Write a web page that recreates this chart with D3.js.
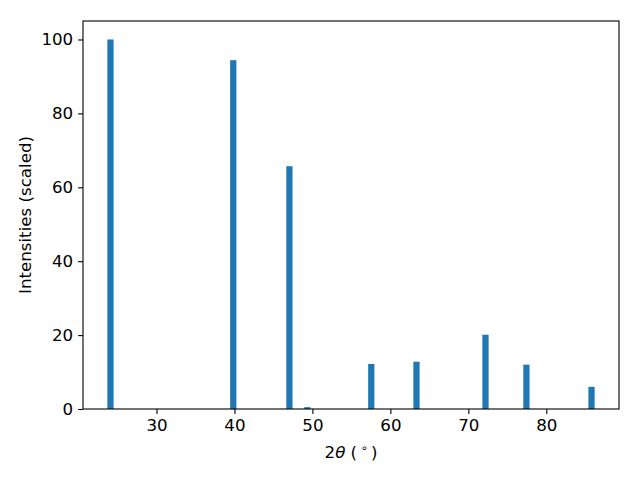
<!DOCTYPE html>
<html>
<head>
<meta charset="utf-8">
<script src="https://cdn.jsdelivr.net/npm/d3@7"></script>
<style>
  body { margin: 0; background: #fff; }
  svg { font-family: "DejaVu Sans", sans-serif; }
</style>
</head>
<body>
<div id="chart"></div>
<script>
const angles = [24.1, 39.85, 47.05, 49.35, 57.55, 63.35, 72.2, 77.45, 85.8];
const intensities = [100, 94.4, 65.7, 0.5, 12.2, 12.8, 20.1, 12.0, 6.0];
const xTicks = [30, 40, 50, 60, 70, 80];
const yTicks = [0, 20, 40, 60, 80, 100];
const barWidth = 0.8;

const width = 640, height = 480;
const margin = { left: 83, right: 21, top: 21, bottom: 71 };

const svg = d3.select("#chart")
  .append("svg")
  .attr("width", width)
  .attr("height", height);

// matplotlib-like 5% margins
const lo = d3.min(angles) - barWidth / 2;
const hi = d3.max(angles) + barWidth / 2;
const pad = (hi - lo) * 0.05;

const x = d3.scaleLinear()
  .domain([lo - pad, hi + pad])
  .range([margin.left, width - margin.right]);

const y = d3.scaleLinear()
  .domain([0, d3.max(intensities) * 1.05])
  .range([height - margin.bottom, margin.top]);

svg.append("g")
  .selectAll("rect")
  .data(angles)
  .enter()
  .append("rect")
  .attr("x", d => x(d - barWidth / 2))
  .attr("width", d => x(d + barWidth / 2) - x(d - barWidth / 2))
  .attr("y", (d, i) => y(intensities[i]))
  .attr("height", (d, i) => y(0) - y(intensities[i]))
  .style("fill", "#1f77b4");

const xAxis = svg.append("g")
  .attr("transform", `translate(0,${height - margin.bottom})`)
  .call(d3.axisBottom(x).tickValues(xTicks).tickSize(4.9).tickPadding(4.9));

const yAxis = svg.append("g")
  .attr("transform", `translate(${margin.left},0)`)
  .call(d3.axisLeft(y).tickValues(yTicks).tickSize(4.9).tickPadding(4.9));

[xAxis, yAxis].forEach(g => {
  g.select(".domain").remove();
  g.selectAll("text").style("font-size", "16.67px").style("fill", "#000")
    .style("font-family", "DejaVu Sans, sans-serif");
  g.selectAll("line").style("stroke", "#000").style("stroke-width", 1.1);
});

svg.append("rect")
  .attr("x", margin.left)
  .attr("y", margin.top)
  .attr("width", width - margin.left - margin.right)
  .attr("height", height - margin.top - margin.bottom)
  .style("fill", "none")
  .style("stroke", "#000")
  .style("stroke-width", 1.1);

const xl = svg.append("text")
  .attr("x", (margin.left + width - margin.right) / 2)
  .attr("y", 458)
  .attr("text-anchor", "middle")
  .style("font-size", "16.67px");
xl.append("tspan").text("2");
xl.append("tspan").style("font-style", "italic").text("θ");
xl.append("tspan").text(" (\u2009");
xl.append("tspan").attr("dy", -6).style("font-size", "11.5px").text("∘");
xl.append("tspan").attr("dy", 6).text("\u2009)");

svg.append("text")
  .attr("transform", `translate(31,${(margin.top + height - margin.bottom) / 2}) rotate(-90)`)
  .attr("text-anchor", "middle")
  .style("font-size", "16.67px")
  .text("Intensities (scaled)");
</script>
</body>
</html>
